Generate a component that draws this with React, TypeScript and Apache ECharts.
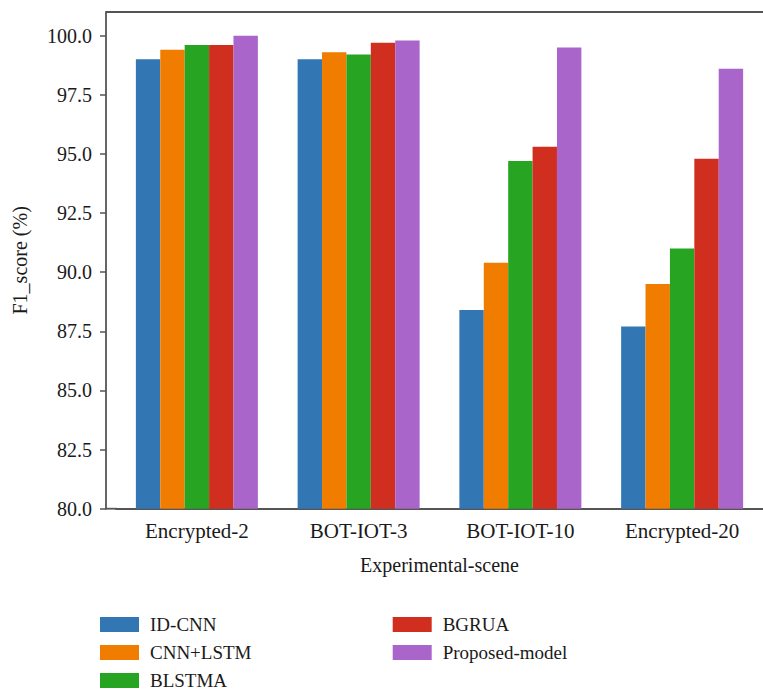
import React, { useEffect, useRef } from "react";
import * as echarts from "echarts";

const categories = ["Encrypted-2", "BOT-IOT-3", "BOT-IOT-10", "Encrypted-20"];
const seriesNames = ["ID-CNN", "CNN+LSTM", "BLSTMA", "BGRUA", "Proposed-model"];
const idCnn = [99.0, 99.0, 88.4, 87.7];
const cnnLstm = [99.4, 99.3, 90.4, 89.5];
const blstma = [99.6, 99.2, 94.7, 91.0];
const bgrua = [99.6, 99.7, 95.3, 94.8];
const proposed = [100.0, 99.8, 99.5, 98.6];
const colors = ["#3277b4", "#f07c00", "#27a522", "#d02f1f", "#a965c9"];

const FONT = "Liberation Serif";
const TEXT = "#1a1a1a";
const AXIS = "#555555";

export default function App() {
  const ref = useRef<HTMLDivElement>(null);
  useEffect(() => {
    if (!ref.current) return;
    const chart = echarts.init(ref.current, undefined, { renderer: "svg" });
    const values = [idCnn, cnnLstm, blstma, bgrua, proposed];
    const legendCommon = {
      orient: "vertical",
      padding: 0,
      itemGap: 9,
      itemWidth: 39,
      itemHeight: 15,
      icon: "rect",
      selectedMode: false,
      textStyle: { fontFamily: FONT, fontSize: 19, color: TEXT, padding: [0, 0, 0, 6] },
    };
    chart.setOption({
      animation: false,
      textStyle: { fontFamily: FONT },
      grid: { left: 116, right: 0, top: 12, bottom: 184.3 },
      legend: [
        { ...legendCommon, left: 100, top: 615, data: seriesNames.slice(0, 3) },
        { ...legendCommon, left: 392.7, top: 615, data: seriesNames.slice(3) },
      ],
      xAxis: {
        type: "category",
        data: categories,
        name: "Experimental-scene",
        nameLocation: "middle",
        nameGap: 46,
        nameTextStyle: { fontFamily: FONT, fontSize: 20, color: TEXT },
        axisLine: { lineStyle: { color: AXIS, width: 1.8 } },
        axisTick: { alignWithLabel: true, length: 7, lineStyle: { color: AXIS, width: 1.5 } },
        axisLabel: { fontFamily: FONT, fontSize: 21, color: TEXT, margin: 12 },
      },
      yAxis: {
        type: "value",
        min: 80,
        max: 101,
        interval: 2.5,
        offset: 10,
        name: "F1_score (%)",
        nameLocation: "middle",
        nameRotate: 90,
        nameGap: 76,
        nameTextStyle: { fontFamily: FONT, fontSize: 20, color: TEXT },
        splitLine: { show: false },
        axisLine: { show: true, lineStyle: { color: AXIS, width: 1.8 } },
        axisTick: { show: true, length: 6, lineStyle: { color: AXIS, width: 1.5 } },
        axisLabel: {
          fontFamily: FONT,
          fontSize: 20,
          color: TEXT,
          margin: 14,
          showMaxLabel: false,
          formatter: (v: number) => (Math.abs(v / 2.5 - Math.round(v / 2.5)) < 1e-6 ? v.toFixed(1) : ""),
        },
      },
      graphic: [
        { type: "line", shape: { x1: 106, y1: 12, x2: 763, y2: 12 }, style: { stroke: AXIS, lineWidth: 1.8 }, z: 10 },
        { type: "line", shape: { x1: 105, y1: 508.7, x2: 117, y2: 508.7 }, style: { stroke: AXIS, lineWidth: 1.8 }, z: 10 },
      ],
      series: seriesNames.map((name, i) => ({
        name,
        type: "bar",
        data: values[i],
        barWidth: 24.4,
        barGap: "0%",
        itemStyle: { color: colors[i] },
      })),
    });
    return () => chart.dispose();
  }, []);
  return (
    <div
      ref={ref}
      style={{ position: "fixed", left: 0, top: 0, width: 763, height: 693, background: "#fff" }}
    />
  );
}
